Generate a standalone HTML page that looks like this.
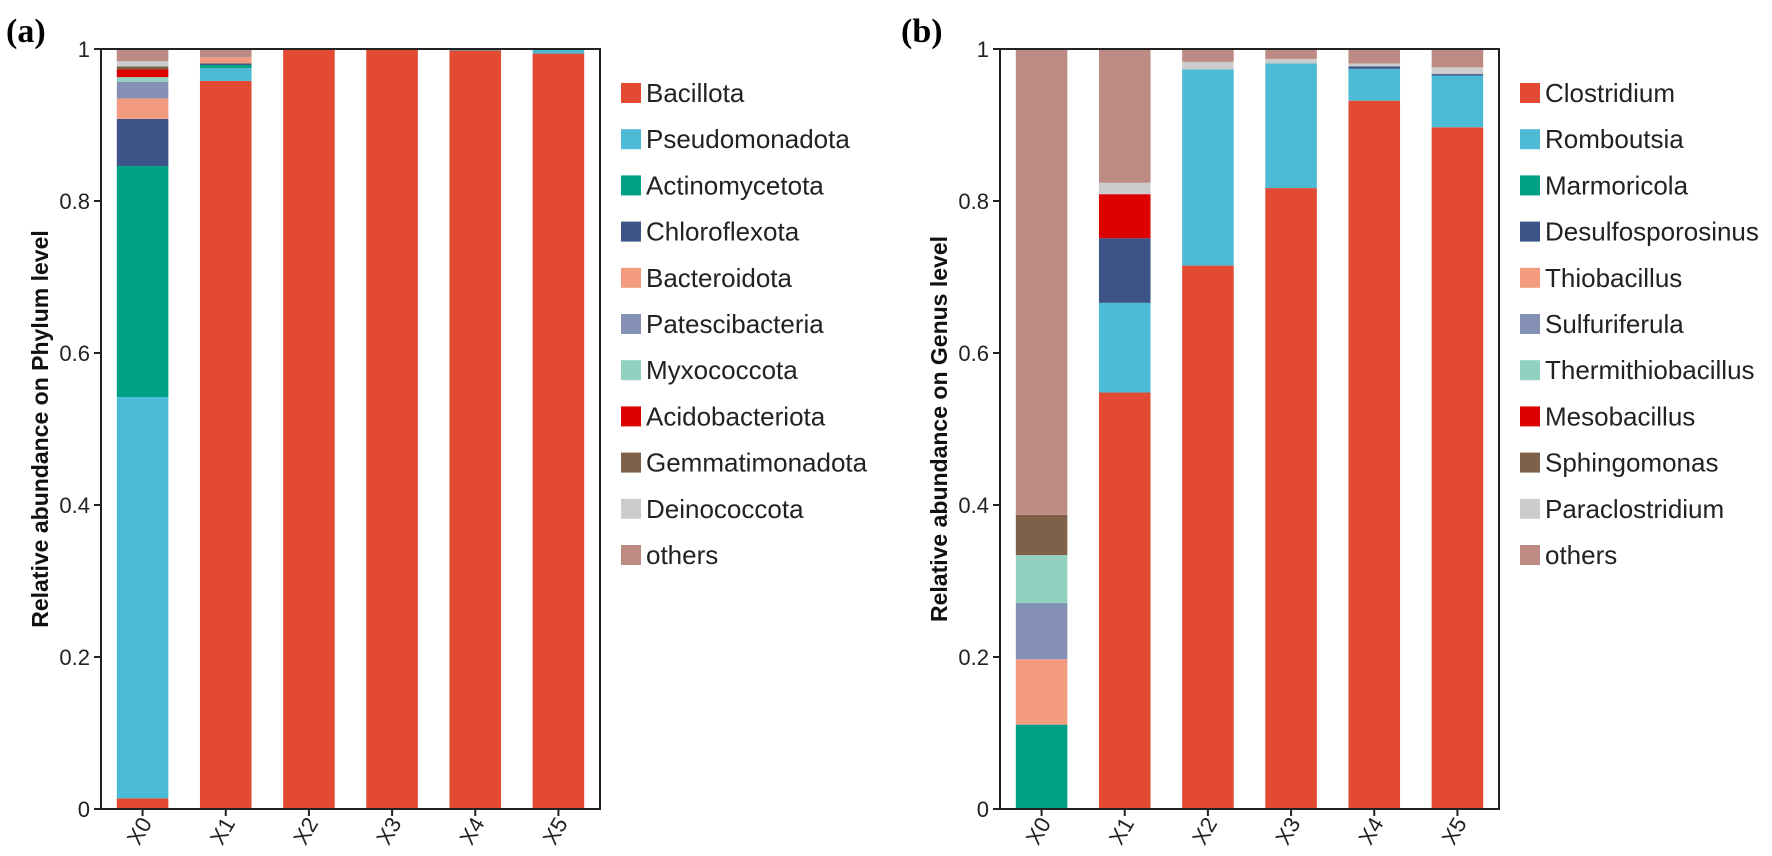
<!DOCTYPE html>
<html><head><meta charset="utf-8"><style>
html,body{margin:0;padding:0;background:#fff;}
svg{display:block;font-family:"Liberation Sans",Arial,sans-serif;}
</style></head><body>
<svg id="fig" width="1772" height="856" viewBox="0 0 1772 856" xmlns="http://www.w3.org/2000/svg">
<text x="6" y="42" font-family="Liberation Serif,serif" font-weight="bold" font-size="34">(a)</text>
<text x="901" y="42" font-family="Liberation Serif,serif" font-weight="bold" font-size="34">(b)</text>
</svg>
<script>
const samples = ["X0","X1","X2","X3","X4","X5"];
const yTicks = [0,0.2,0.4,0.6,0.8,1];
const yTickLabels = ["0","0.2","0.4","0.6","0.8","1"];
const colors = ["#e24a33","#4dbbd5","#00a087","#3c5488","#f39b7f","#8491b4","#91d1c2","#dc0000","#7e6148","#cccccc","#bd8b84"];
const phylaNames = ["Bacillota","Pseudomonadota","Actinomycetota","Chloroflexota","Bacteroidota","Patescibacteria","Myxococcota","Acidobacteriota","Gemmatimonadota","Deinococcota","others"];
const phylaBacillota = [0.014,0.958,1.0,1.0,0.998,0.994];
const phylaPseudomonadota = [0.528,0.017,0,0,0.002,0.006];
const phylaActinomycetota = [0.304,0.004,0,0,0,0];
const phylaChloroflexota = [0.062,0.002,0,0,0,0];
const phylaBacteroidota = [0.027,0.008,0,0,0,0];
const phylaPatescibacteria = [0.022,0,0,0,0,0];
const phylaMyxococcota = [0.006,0,0,0,0,0];
const phylaAcidobacteriota = [0.010,0,0,0,0,0];
const phylaGemmatimonadota = [0.004,0,0,0,0,0];
const phylaDeinococcota = [0.007,0,0,0,0,0];
const phylaOthers = [0.016,0.011,0,0,0,0];
const genusNames = ["Clostridium","Romboutsia","Marmoricola","Desulfosporosinus","Thiobacillus","Sulfuriferula","Thermithiobacillus","Mesobacillus","Sphingomonas","Paraclostridium","others"];
const genusClostridium = [0,0.548,0.715,0.817,0.932,0.897];
const genusRomboutsia = [0,0.118,0.258,0.164,0.042,0.068];
const genusMarmoricola = [0.111,0,0,0,0,0];
const genusDesulfosporosinus = [0,0.085,0,0,0.003,0.002];
const genusThiobacillus = [0.086,0,0,0,0,0];
const genusSulfuriferula = [0.074,0,0,0,0,0];
const genusThermithiobacillus = [0.063,0,0,0,0,0];
const genusMesobacillus = [0,0.058,0,0,0,0];
const genusSphingomonas = [0.053,0,0,0,0,0];
const genusParaclostridium = [0,0.015,0.010,0.006,0.004,0.009];
const genusOthers = [0.613,0.176,0.017,0.013,0.019,0.024];

const NS="http://www.w3.org/2000/svg";
const svg=document.getElementById('fig');
function mk(tag,attrs,parent){const e=document.createElementNS(NS,tag);for(const k in attrs)e.setAttribute(k,attrs[k]);(parent||svg).appendChild(e);return e;}

function panel(left, right, series, names, title, tag){
  const top=49, bottom=809;
  const g=mk('g',{});
  
  
  const band=(right-left)/samples.length, bw=band*0.62;
  const xC=i=>left+band*(i+0.5);
  const yS=v=>bottom-(bottom-top)*v;
  samples.forEach((s,i)=>{
    let cum=0;
    series.forEach((arr,k)=>{
      const v=arr[i]; if(v<=0) return;
      const r=mk('rect',{x:xC(i)-bw/2,y:yS(cum+v),width:bw,height:yS(cum)-yS(cum+v),fill:colors[k]},g);
      
      
      cum+=v;
    });
  });
  const fr=mk('path',{d:`M${left} ${top}H${right}V${bottom}H${left}Z`,fill:'none',stroke:'#222','stroke-width':2},g);
  
  
  yTicks.forEach((t,j)=>{
    mk('line',{x1:left-7,x2:left,y1:yS(t),y2:yS(t),stroke:'#222','stroke-width':2},g);
    const tx=mk('text',{x:left-11,y:yS(t)+8,'text-anchor':'end','font-size':22,fill:'#222'},g);
    tx.textContent=yTickLabels[j];
    
    
  });
  samples.forEach((s,i)=>{
    mk('line',{x1:xC(i),x2:xC(i),y1:bottom,y2:bottom+7,stroke:'#222','stroke-width':2},g);
    const tx=mk('text',{x:0,y:0,'text-anchor':'end','font-size':22,fill:'#222',transform:`translate(${xC(i)+10},${bottom+14}) rotate(-60)`},g);
    tx.textContent=s;
    
    
  });
  const yt=mk('text',{x:0,y:0,'text-anchor':'middle','font-size':23,'font-weight':'bold',fill:'#111',transform:`translate(${left-53},${(top+bottom)/2}) rotate(-90)`},g);
  yt.textContent=title;
  
  
  names.forEach((n,k)=>{
    const cy=93+46.2*k;
    const sq=mk('rect',{x:right+21,y:cy-10,width:20,height:20,fill:colors[k]},g);
    
    
    const tx=mk('text',{x:right+46,y:cy+9,'font-size':26,fill:'#222'},g);
    tx.textContent=n;
    
    
  });
}
panel(101,600,[phylaBacillota,phylaPseudomonadota,phylaActinomycetota,phylaChloroflexota,phylaBacteroidota,phylaPatescibacteria,phylaMyxococcota,phylaAcidobacteriota,phylaGemmatimonadota,phylaDeinococcota,phylaOthers],phylaNames,"Relative abundance on Phylum level","phylum");
panel(1000,1499,[genusClostridium,genusRomboutsia,genusMarmoricola,genusDesulfosporosinus,genusThiobacillus,genusSulfuriferula,genusThermithiobacillus,genusMesobacillus,genusSphingomonas,genusParaclostridium,genusOthers],genusNames,"Relative abundance on Genus level","genus");
</script>
</body></html>
